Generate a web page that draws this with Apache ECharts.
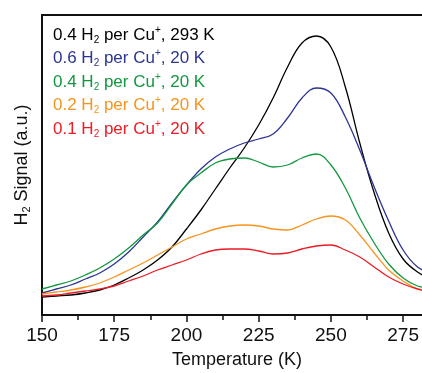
<!DOCTYPE html>
<html>
<head>
<meta charset="utf-8">
<script src="https://cdn.jsdelivr.net/npm/echarts@6/dist/echarts.min.js"></script>
<style>
  html, body { margin: 0; padding: 0; background: #fff; }
  #chart { width: 422px; height: 373px; }
</style>
</head>
<body>
<div id="chart"></div>
<script>
// temperature grid (K)
const temps = [150, 155, 160, 165, 170, 175, 180, 185, 190, 195, 200, 205, 210, 215,
               220, 225, 230, 235, 240, 245, 250, 255, 260, 265, 270, 275, 280, 285];

// H2 signal (arbitrary units) per curve
const black293 = [18, 19, 20, 22, 25, 30, 37, 45, 55, 68, 86, 105, 126, 147,
                  167, 190, 217, 248, 272, 279, 268, 228, 172, 122, 82, 56, 43, 36];
const blue06 = [22, 26, 30, 36, 42, 51, 63, 78, 93, 112, 130, 146, 158, 166,
                172, 176, 181, 197, 217, 227, 222, 198, 165, 128, 94, 65, 48, 42];
const green04 = [26, 30, 34, 40, 47, 56, 67, 80, 92, 111, 130, 142, 152, 156,
                 157, 153, 148, 150, 157, 161, 150, 127, 97, 72, 51, 37, 29, 27];
const orange02 = [21, 23, 25, 28, 32, 38, 45, 52, 60, 68, 76, 81, 86, 89,
                  90, 89, 86, 85, 90, 96, 99, 95, 80, 62, 45, 34, 26, 23];
const red01 = [19, 20, 22, 24, 26, 29, 34, 39, 45, 50, 55, 61, 65, 66,
               66, 64, 61, 62, 66, 69, 70, 65, 58, 48, 38, 31, 26, 23];

const seriesNames = [
  '0.4 H{sub|2} per Cu{sup|+}, 293 K',
  '0.6 H{sub|2} per Cu{sup|+}, 20 K',
  '0.4 H{sub|2} per Cu{sup|+}, 20 K',
  '0.2 H{sub|2} per Cu{sup|+}, 20 K',
  '0.1 H{sub|2} per Cu{sup|+}, 20 K'
];
const seriesValues = [black293, blue06, green04, orange02, red01];
const seriesColors = ['#000000', '#2b3592', '#13973f', '#f7941d', '#ec1c24'];

const xTicks = [150, 175, 200, 225, 250, 275];

const chart = echarts.init(document.getElementById('chart'), null, { renderer: 'canvas' });

const richSubSup = {
  sub: { fontSize: 10, lineHeight: 12, verticalAlign: 'bottom', fontFamily: 'Liberation Sans' },
  sup: { fontSize: 10, lineHeight: 12, verticalAlign: 'top', fontFamily: 'Liberation Sans' }
};

const option = {
  animation: false,
  backgroundColor: '#ffffff',
  // plot frame runs past the right edge of the picture (cropped figure)
  grid: {
    left: 42, top: 15, width: 390, bottom: 58,
    outerBoundsMode: 'none',
    containLabel: false,
    show: true, borderColor: '#111', borderWidth: 2
  },
  legend: {
    orient: 'vertical',
    left: 43, top: 20,
    itemGap: 3.5,
    itemWidth: 0, itemHeight: 0,
    icon: 'none',
    selectedMode: false,
    data: seriesNames.map((n, i) => ({ name: n, textStyle: { color: seriesColors[i] } })),
    textStyle: {
      fontFamily: 'Liberation Sans',
      fontSize: 17,
      lineHeight: 20,
      rich: richSubSup
    }
  },
  xAxis: {
    type: 'value',
    min: 150, max: 285, interval: 25,
    name: 'Temperature (K)',
    nameLocation: 'middle',
    nameGap: 36,
    nameTextStyle: { fontFamily: 'Liberation Sans', fontSize: 18, color: '#111' },
    axisLine: { lineStyle: { color: '#111', width: 2 } },
    axisTick: { show: true, inside: false, length: 7, lineStyle: { color: '#111', width: 1.5 } },
    minorTick: { show: true, splitNumber: 2, length: 5, lineStyle: { color: '#111', width: 1.5 } },
    splitLine: { show: false },
    axisLabel: {
      margin: 11,
      fontFamily: 'Liberation Sans', fontSize: 19, color: '#111',
      formatter: v => (xTicks.indexOf(v) >= 0 ? String(v) : '')
    }
  },
  yAxis: {
    type: 'value',
    min: 0, max: 300,
    name: 'H{sub|2} Signal (a.u.)',
    nameLocation: 'middle',
    nameGap: 10,
    nameTextStyle: {
      fontFamily: 'Liberation Sans', fontSize: 18, color: '#111', lineHeight: 20,
      rich: {
        sub: { fontSize: 11, lineHeight: 13, verticalAlign: 'bottom', fontFamily: 'Liberation Sans', color: '#111' }
      }
    },
    axisLine: { show: true, lineStyle: { color: '#111', width: 2 } },
    axisTick: { show: false },
    axisLabel: { show: false },
    splitLine: { show: false }
  },
  series: seriesNames.map((n, i) => ({
    name: n,
    type: 'line',
    smooth: 0.4,
    symbol: 'none',
    lineStyle: { color: seriesColors[i], width: 1.3 },
    itemStyle: { color: seriesColors[i] },
    data: temps.map((t, j) => [t, seriesValues[i][j]])
  }))
};

chart.setOption(option);
</script>
</body>
</html>
